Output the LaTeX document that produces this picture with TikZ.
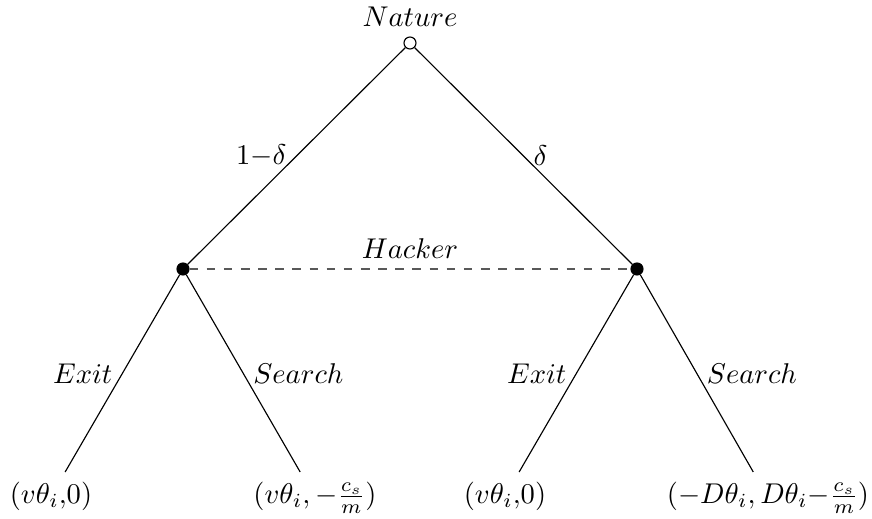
\documentclass[tikz,border=0pt]{standalone}
\usepackage{tikz}
\usetikzlibrary{positioning}

\begin{document}
\begin{tikzpicture}[
    x=0.35pt, y=-0.35pt,
    chance/.style={circle, draw, fill=white, inner sep=0pt, minimum size=4.2pt},
    decision/.style={circle, draw, fill=black, inner sep=0pt, minimum size=4.2pt},
    payoff/.style={anchor=north, inner sep=3.33pt}
]
\useasboundingbox (0,0) rectangle (872,519);

\node[chance, label={[label distance=0pt]above:$Nature$}] (nat) at (410,43) {};
\node[decision] (h1) at (183,269) {};
\node[decision] (h2) at (637,269) {};

\node[payoff] (p1) at (51,472) {$(v\theta_i{,}0)$};
\node[payoff] (p2) at (315,472) {$(v\theta_i,-\frac{c_s}{m})$};
\node[payoff] (p3) at (505,472) {$(v\theta_i{,}0)$};
\node[payoff] (p4) at (768,472) {$(-D\theta_i,D\theta_i{-}\frac{c_s}{m})$};

\draw (nat) -- node[left] {$1{-}\delta$} (h1);
\draw (nat) -- node[right] {$\delta$} (h2);
\draw[dashed, black!65] (h1) -- node[above, text=black] {$Hacker$} (h2);

\draw (h1) -- node[left] {$Exit$} (p1);
\draw (h1) -- node[right] {$Search$} (p2);
\draw (h2) -- node[left] {$Exit$} (p3);
\draw (h2) -- node[right] {$Search$} (p4);

\end{tikzpicture}
\end{document}
